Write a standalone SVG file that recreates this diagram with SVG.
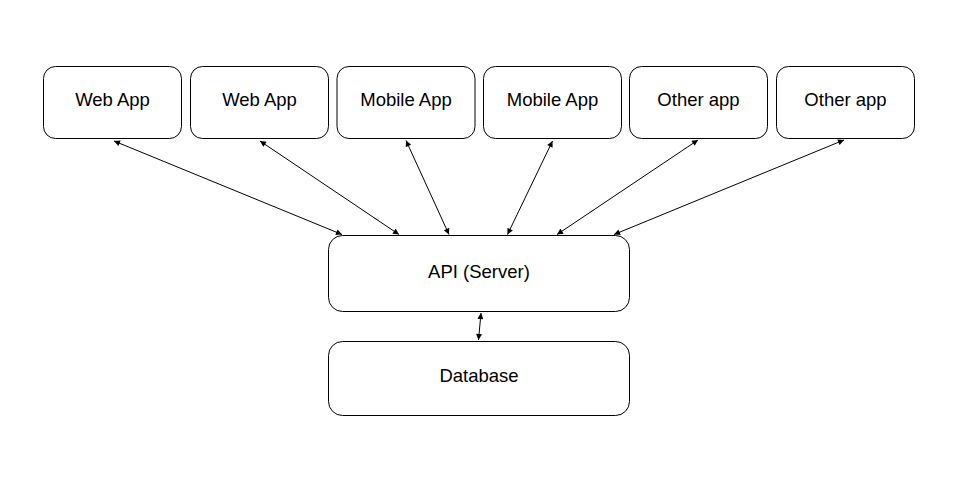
<svg xmlns="http://www.w3.org/2000/svg" width="958" height="483" viewBox="0 0 958 483">
<style>
.box{fill:#fff;stroke:#000;stroke-width:1}
.lbl{font-family:"Liberation Sans",Arial,sans-serif;font-size:18.5px;fill:#000;text-anchor:middle}
.con{stroke:#000;stroke-width:1;fill:none;marker-start:url(#ah);marker-end:url(#ah)}
</style>
<defs>
<marker id="ah" viewBox="0 0 10 10" refX="10" refY="5" markerWidth="7" markerHeight="6" markerUnits="userSpaceOnUse" orient="auto-start-reverse">
<path d="M0,0 L10,5 L0,10 z" fill="#000"/>
</marker>
</defs>
<rect width="958" height="483" fill="#fff"/>
<g id="connectors">
<line class="con" x1="114" y1="141" x2="342" y2="234.5"/>
<line class="con" x1="260" y1="141" x2="399" y2="234.5"/>
<line class="con" x1="406" y1="140.5" x2="449" y2="234.5"/>
<line class="con" x1="552.5" y1="141" x2="507.5" y2="234.5"/>
<line class="con" x1="698" y1="140" x2="557" y2="234.5"/>
<line class="con" x1="844" y1="140" x2="614" y2="234.5"/>
<line class="con" x1="481" y1="313" x2="478.5" y2="340"/>
</g>
<g id="web1"><rect class="box" x="43.5" y="66.5" width="138" height="72" rx="12"/><text class="lbl" x="112.5" y="106">Web App</text></g>
<g id="web2"><rect class="box" x="190.5" y="66.5" width="138" height="72" rx="12"/><text class="lbl" x="259.5" y="106">Web App</text></g>
<g id="mobile1"><rect class="box" x="337" y="66.5" width="138" height="72" rx="12"/><text class="lbl" x="406" y="106">Mobile App</text></g>
<g id="mobile2"><rect class="box" x="483.5" y="66.5" width="138" height="72" rx="12"/><text class="lbl" x="552.5" y="106">Mobile App</text></g>
<g id="other1"><rect class="box" x="629.5" y="66.5" width="138" height="72" rx="12"/><text class="lbl" x="698.5" y="106">Other app</text></g>
<g id="other2"><rect class="box" x="776.5" y="66.5" width="138" height="72" rx="12"/><text class="lbl" x="845.5" y="106">Other app</text></g>
<g id="api"><rect class="box" x="328.5" y="235.5" width="301" height="76" rx="14"/><text class="lbl" x="479" y="278">API (Server)</text></g>
<g id="database"><rect class="box" x="328.5" y="341.5" width="301" height="74" rx="14"/><text class="lbl" x="479" y="382">Database</text></g>
</svg>
